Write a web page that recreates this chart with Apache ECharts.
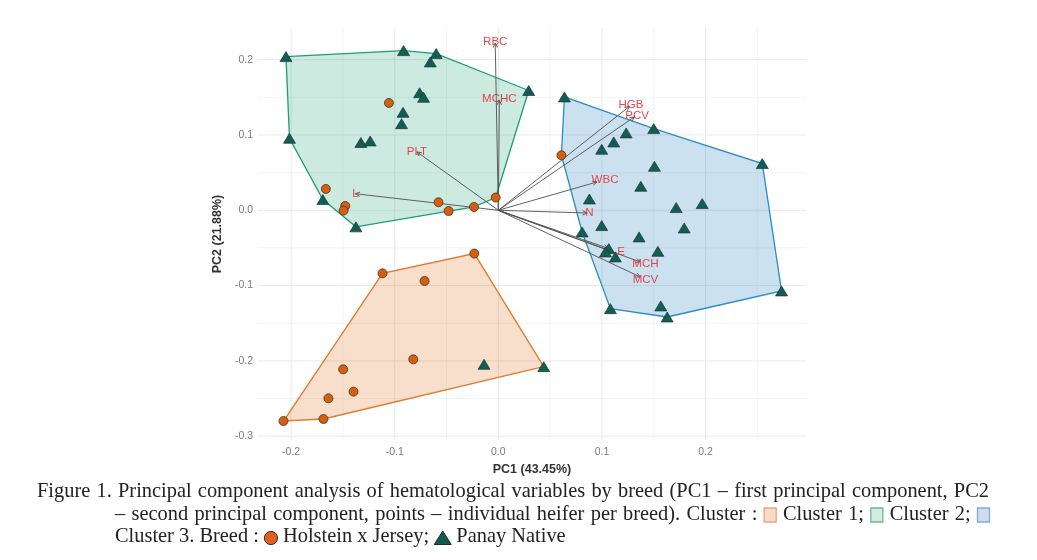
<!DOCTYPE html>
<html><head><meta charset="utf-8">
<script src="https://cdn.jsdelivr.net/npm/echarts@6/dist/echarts.min.js"></script>
<style>html,body{margin:0;padding:0;background:#fff}#c{width:1037px;height:560px}</style>
</head><body><div id="c"></div>
<script>
// ---- data ----
const xTickValues = [-0.2, -0.1, 0.0, 0.1, 0.2];
const yTickValues = [-0.3, -0.2, -0.1, 0.0, 0.1, 0.2];
const xMinorValues = [-0.15, -0.05, 0.05, 0.15, 0.25];
const yMinorValues = [-0.25, -0.15, -0.05, 0.05, 0.15];

const holsteinX = [-0.1056, -0.1665, -0.1478, -0.1494, -0.0577, -0.048, -0.0235, -0.0026, 0.0609,
  -0.1118, -0.0232, -0.0712, -0.0821, -0.1498, -0.1398, -0.164, -0.1688, -0.2074];
const holsteinY = [0.1425, 0.0283, 0.0057, -0.0004, 0.0106, -0.001, 0.0044, 0.0169, 0.073,
  -0.0837, -0.0575, -0.0939, -0.1979, -0.2112, -0.2408, -0.2497, -0.2771, -0.2798];

const panayX = [-0.205, -0.0915, -0.060, -0.0657, 0.0293, -0.076, -0.0722, -0.092, -0.0934, -0.1327, -0.1237, -0.2016, -0.1694, -0.1375,
  0.0638, 0.150, 0.1234, 0.1114, 0.0998, 0.2548, 0.1507, 0.1375, 0.0879, 0.1717, 0.1968, 0.1794, 0.0998, 0.0809, 0.1359, 0.1066, 0.1034, 0.113, 0.154, 0.2734, 0.1082, 0.1568, 0.163,
  -0.0138, 0.0438];
const panayY = [0.204, 0.212, 0.208, 0.197, 0.159, 0.156, 0.150, 0.130, 0.115, 0.090, 0.092, 0.0956, 0.0142, -0.022,
  0.1505, 0.1085, 0.1027, 0.0907, 0.081, 0.062, 0.0584, 0.0319, 0.015, 0.0036, 0.0089, -0.0235, -0.0203, -0.0288, -0.0354, -0.0509, -0.0553, -0.062, -0.0545, -0.1071, -0.1306, -0.127, -0.1417,
  -0.2045, -0.2076];

const cluster1Hull = [[-0.2074, -0.2798], [-0.1118, -0.0837], [-0.0232, -0.0575], [0.0438, -0.2076], [-0.1688, -0.2771]];
const cluster2Hull = [[-0.205, 0.204], [-0.0915, 0.212], [-0.060, 0.208], [0.0293, 0.159], [-0.0026, 0.0169], [-0.0235, 0.0044], [-0.1375, -0.022], [-0.1694, 0.0142], [-0.2016, 0.0956]];
const cluster3Hull = [[0.0638, 0.1505], [0.150, 0.1085], [0.2548, 0.062], [0.2734, -0.1071], [0.163, -0.1417], [0.1082, -0.1306], [0.0809, -0.0288], [0.0609, 0.073]];

const varNames  = ['RBC', 'MCHC', 'HGB', 'PCV', 'WBC', 'N', 'E', '', 'MCH', 'MCV', 'PLT', 'L'];
const loadX     = [-0.003, 0.001, 0.1266, 0.1314, 0.0953, 0.0857, 0.1114, 0.106, 0.137, 0.137, -0.0786, -0.138];
const loadY     = [0.222, 0.146, 0.138, 0.124, 0.0376, -0.0036, -0.0553, -0.0505, -0.0686, -0.0885, 0.0775, 0.022];
const labelX    = [-0.003, 0.001, 0.128, 0.134, 0.103, 0.088, 0.1185, 0.106, 0.142, 0.142, -0.0786, -0.138];
const labelY    = [0.224, 0.148, 0.140, 0.125, 0.041, -0.004, -0.055, -0.0505, -0.0717, -0.093, 0.0775, 0.022];

const xMin = -0.232, xMax = 0.297, yMin = -0.305, yMax = 0.242;

// caption text (icons marked with objects)
const captionLine1 = 'Figure 1. Principal component analysis of hematological variables by breed (PC1 \u2013 first principal component, PC2';
const captionLine2 = ['\u2013 second principal component, points \u2013 individual heifer per breed). Cluster :', {icon: 'box1'}, 'Cluster 1;', {icon: 'box2'}, 'Cluster 2;', {icon: 'box3'}];
const captionLine3 = ['Cluster 3. Breed :', {icon: 'circle'}, 'Holstein x Jersey;', {icon: 'triangle'}, 'Panay Native'];

// ---- chart ----
const chart = echarts.init(document.getElementById('c'), null, {renderer: 'canvas'});

function gridSeries(values, vertical, color) {
  return {
    type: 'custom', coordinateSystem: 'cartesian2d', silent: true, z: 0, clip: false,
    data: values.map(v => vertical ? [v, 0] : [0, v]),
    renderItem: function (params, api) {
      const v = api.value(vertical ? 0 : 1);
      const a = vertical ? api.coord([v, yMin]) : api.coord([xMin, v]);
      const b = vertical ? api.coord([v, yMax]) : api.coord([xMax, v]);
      return {type: 'line', shape: {x1: a[0], y1: a[1], x2: b[0], y2: b[1]}, style: {stroke: color, lineWidth: 1}};
    }
  };
}

function hullSeries(pts, stroke, fill) {
  return {
    type: 'custom', coordinateSystem: 'cartesian2d', silent: true, z: 2,
    data: [pts[0]],
    renderItem: function (params, api) {
      return {type: 'polygon', shape: {points: pts.map(p => api.coord(p))},
        style: {fill: fill, stroke: stroke, lineWidth: 1.3}};
    }
  };
}

const loadData = varNames.map((n, i) => [loadX[i], loadY[i], labelX[i], labelY[i]]);

const arrowSeries = {
  type: 'custom', coordinateSystem: 'cartesian2d', silent: true, z: 3,
  data: loadData,
  renderItem: function (params, api) {
    const o = api.coord([0, 0]);
    const t = api.coord([api.value(0), api.value(1)]);
    const ang = Math.atan2(t[1] - o[1], t[0] - o[0]);
    const h = 5, s = 0.45;
    const p1 = [t[0] - h * Math.cos(ang - s), t[1] - h * Math.sin(ang - s)];
    const p2 = [t[0] - h * Math.cos(ang + s), t[1] - h * Math.sin(ang + s)];
    return {type: 'group', children: [
      {type: 'line', shape: {x1: o[0], y1: o[1], x2: t[0], y2: t[1]}, style: {stroke: '#505050', lineWidth: 0.9}},
      {type: 'polyline', shape: {points: [p1, t, p2]}, style: {stroke: '#505050', lineWidth: 0.9, fill: null}}
    ]};
  }
};

const labelSeries = {
  type: 'custom', coordinateSystem: 'cartesian2d', silent: true, z: 6,
  data: loadData,
  renderItem: function (params, api) {
    const p = api.coord([api.value(2), api.value(3)]);
    return {type: 'text', x: p[0], y: p[1], style: {
      text: varNames[params.dataIndex], fill: 'rgba(232,52,60,0.92)',
      font: '11.5px "Liberation Sans", Arial, sans-serif', align: 'center', verticalAlign: 'middle'}};
  }
};

// ---- caption layout (justified like the reference) ----
const capFont = '20.4px "Liberation Serif", "Times New Roman", serif';
const measureCtx = document.createElement('canvas').getContext('2d');
measureCtx.font = capFont;
const iconWidth = {box1: 13, box2: 13, box3: 13, circle: 14, triangle: 17};

function splitTokens(line) {
  const out = [];
  (Array.isArray(line) ? line : [line]).forEach(t => {
    if (typeof t === 'string') t.split(' ').forEach(w => { if (w) out.push(w); });
    else out.push(t);
  });
  return out;
}
function tokenWidth(t) { return typeof t === 'string' ? measureCtx.measureText(t).width : iconWidth[t.icon]; }
function iconElement(name, x, y) {
  if (name.indexOf('box') === 0) {
    const c = {box1: ['#f7dbc8', '#eba37a'], box2: ['#d4ebe0', '#6bbb95'], box3: ['#cfdcee', '#86a8d8']}[name];
    return {type: 'rect', shape: {x: x + 0.5, y: y - 7, width: 12, height: 14}, style: {fill: c[0], stroke: c[1], lineWidth: 1.3}};
  }
  if (name === 'circle') {
    return {type: 'circle', shape: {cx: x + 7, cy: y + 1, r: 6.6}, style: {fill: '#e0601f', stroke: '#3a2a20', lineWidth: 1}};
  }
  return {type: 'polygon', shape: {points: [[x, y + 7.5], [x + 8.5, y - 6], [x + 17, y + 7.5]]}, style: {fill: '#0f5b52', stroke: '#1d2b2a', lineWidth: 1}};
}
function layoutLine(line, x0, x1, y, justify) {
  const toks = splitTokens(line);
  const widths = toks.map(tokenWidth);
  const total = widths.reduce((a, b) => a + b, 0);
  const gap = justify ? (x1 - x0 - total) / (toks.length - 1) : measureCtx.measureText(' ').width;
  const els = [];
  let x = x0;
  toks.forEach((t, i) => {
    if (typeof t === 'string') {
      els.push({type: 'text', x: x, y: y, silent: true, style: {text: t, font: capFont, fill: '#222', align: 'left', verticalAlign: 'middle'}});
    } else {
      els.push(iconElement(t.icon, x, y));
    }
    x += widths[i] + gap;
  });
  return els;
}
const captionElements = [].concat(
  layoutLine(captionLine1, 37, 989, 492, true),
  layoutLine(captionLine2, 115, 990, 515, true),
  layoutLine(captionLine3, 115, 990, 537, false)
);

const option = {
  animation: false,
  backgroundColor: '#ffffff',
  grid: {left: 258, right: 231, top: 28, bottom: 120},
  xAxis: {
    type: 'value', min: xMin, max: xMax,
    axisLine: {show: false}, axisTick: {show: false}, splitLine: {show: false},
    axisLabel: {customValues: xTickValues, formatter: v => v.toFixed(1), color: '#7a7a7a', fontSize: 10.5, margin: 7, fontFamily: 'Liberation Sans'},
    name: 'PC1 (43.45%)', nameLocation: 'middle', nameGap: 15,
    nameTextStyle: {fontWeight: 'bold', fontSize: 12.5, color: '#333', fontFamily: 'Liberation Sans'}
  },
  yAxis: {
    type: 'value', min: yMin, max: yMax,
    axisLine: {show: false}, axisTick: {show: false}, splitLine: {show: false},
    axisLabel: {customValues: yTickValues, formatter: v => v.toFixed(1), color: '#7a7a7a', fontSize: 10.5, margin: 5, fontFamily: 'Liberation Sans'},
    name: 'PC2 (21.88%)', nameLocation: 'middle', nameGap: 14,
    nameTextStyle: {fontWeight: 'bold', fontSize: 12.5, color: '#333', fontFamily: 'Liberation Sans'}
  },
  series: [
    gridSeries(xMinorValues, true, '#f4f4f4'),
    gridSeries(yMinorValues, false, '#f4f4f4'),
    gridSeries(xTickValues, true, '#e9e9e9'),
    gridSeries(yTickValues, false, '#e9e9e9'),
    hullSeries(cluster1Hull, '#e07a2c', 'rgba(217,95,2,0.2)'),
    hullSeries(cluster2Hull, '#1b9e77', 'rgba(27,158,119,0.22)'),
    hullSeries(cluster3Hull, '#2b8cc4', 'rgba(43,130,190,0.24)'),
    arrowSeries,
    {
      name: 'Holstein x Jersey', type: 'scatter', z: 5, symbol: 'circle', symbolSize: 9,
      data: holsteinX.map((x, i) => [x, holsteinY[i]]),
      itemStyle: {color: '#d45f0c', borderColor: '#4a3223', borderWidth: 0.8, opacity: 1}
    },
    {
      name: 'Panay Native', type: 'scatter', z: 5, symbol: 'triangle', symbolSize: [12, 10],
      data: panayX.map((x, i) => [x, panayY[i]]),
      itemStyle: {color: '#115e55', borderColor: '#233', borderWidth: 0.7, opacity: 1}
    },
    labelSeries
  ],
  graphic: captionElements
};
chart.setOption(option);
</script></body></html>
